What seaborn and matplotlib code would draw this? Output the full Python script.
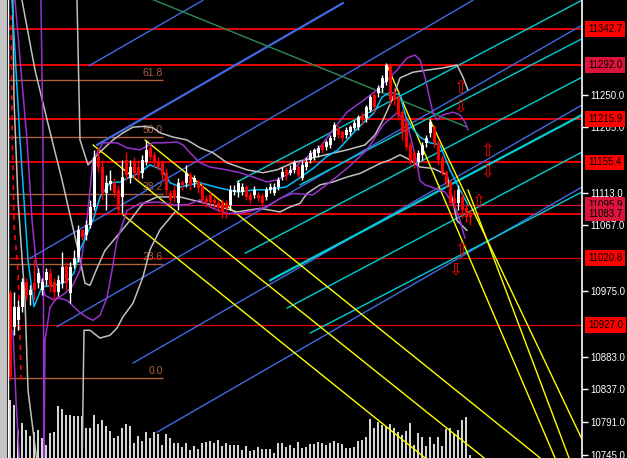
import matplotlib
matplotlib.use("Agg")
import matplotlib.pyplot as plt
import matplotlib.transforms as mtransforms
from matplotlib.patches import Rectangle
import seaborn as sns

# ---- candles (bar index 0..115) ----
opens = [10972, 10925, 10934, 10953, 10988, 10970, 10986, 10986, 10977, 10991,
         11000, 10988, 10974, 10986, 11010, 10972, 11012, 11023, 11061, 11054,
         11068, 11093, 11163, 11149, 11113, 11125, 11127, 11117, 11107, 11159,
         11134, 11155, 11149, 11141, 11156, 11176, 11166, 11156, 11155, 11141,
         11113, 11117, 11099, 11128, 11127, 11138, 11128, 11128, 11121, 11104,
         11110, 11103, 11099, 11100, 11099, 11096, 11114, 11114, 11114, 11121,
         11110, 11110, 11110, 11108, 11107, 11117, 11113, 11121, 11135, 11145,
         11141, 11145, 11149, 11134, 11149, 11159, 11163, 11169, 11180, 11177,
         11180, 11191, 11204, 11198, 11194, 11198, 11204, 11205, 11222, 11218,
         11229, 11250, 11253, 11260, 11268, 11292, 11254, 11246, 11226, 11211,
         11180, 11169, 11156, 11166, 11183, 11197, 11205, 11183, 11162, 11142,
         11128, 11106, 11099, 11107, 11092, 11085]
closes = [10854, 10953, 10953, 10988, 10970, 10977, 10977, 11000, 10988, 11002,
          10981, 10974, 10991, 11009, 10986, 11009, 11021, 11061, 11051, 11068,
          11093, 11163, 11149, 11113, 11127, 11129, 11113, 11089, 11135, 11138,
          11149, 11141, 11138, 11159, 11173, 11163, 11155, 11149, 11138, 11117,
          11103, 11106, 11127, 11124, 11141, 11124, 11134, 11120, 11103, 11100,
          11100, 11099, 11092, 11086, 11092, 11117, 11117, 11127, 11121, 11107,
          11103, 11117, 11106, 11099, 11117, 11121, 11121, 11131, 11142, 11138,
          11145, 11155, 11138, 11152, 11156, 11169, 11173, 11176, 11173, 11184,
          11190, 11208, 11194, 11190, 11201, 11205, 11211, 11219, 11215, 11233,
          11247, 11233, 11260, 11274, 11292, 11243, 11243, 11222, 11198, 11177,
          11159, 11155, 11169, 11180, 11190, 11212, 11183, 11159, 11142, 11127,
          11099, 11099, 11117, 11089, 11079, 11079]
highs = [10976, 10973, 10962, 10994, 10994, 10984, 11018, 11007, 10994, 11007,
         11007, 10994, 10998, 11030, 11016, 11016, 11033, 11068, 11062, 11075,
         11103, 11173, 11176, 11159, 11138, 11145, 11134, 11124, 11159, 11170,
         11159, 11163, 11159, 11166, 11187, 11180, 11170, 11163, 11159, 11148,
         11117, 11124, 11134, 11131, 11152, 11142, 11138, 11131, 11127, 11110,
         11114, 11107, 11103, 11104, 11103, 11124, 11124, 11131, 11127, 11124,
         11114, 11122, 11114, 11113, 11121, 11127, 11127, 11135, 11149, 11149,
         11152, 11159, 11152, 11159, 11163, 11173, 11176, 11180, 11184, 11187,
         11194, 11212, 11208, 11201, 11205, 11208, 11215, 11222, 11226, 11236,
         11250, 11254, 11264, 11278, 11295, 11295, 11260, 11250, 11229, 11215,
         11184, 11173, 11173, 11184, 11194, 11216, 11208, 11187, 11166, 11145,
         11131, 11117, 11124, 11113, 11096, 11089]
lows = [10850, 10913, 10920, 10946, 10962, 10955, 10962, 10979, 10970, 10984,
        10974, 10962, 10968, 10979, 10976, 10958, 11007, 11016, 11047, 11047,
        11063, 11089, 11142, 11103, 11089, 11117, 11107, 11084, 11085, 11131,
        11127, 11134, 11131, 11134, 11152, 11159, 11149, 11145, 11131, 11110,
        11096, 11100, 11089, 11117, 11121, 11117, 11121, 11113, 11099, 11093,
        11093, 11092, 11086, 11078, 11078, 11089, 11110, 11107, 11110, 11103,
        11099, 11106, 11101, 11095, 11103, 11113, 11110, 11117, 11131, 11131,
        11138, 11141, 11134, 11131, 11145, 11155, 11159, 11163, 11169, 11173,
        11176, 11187, 11190, 11184, 11190, 11194, 11201, 11201, 11208, 11212,
        11226, 11226, 11247, 11254, 11264, 11236, 11236, 11215, 11187, 11173,
        11152, 11148, 11152, 11159, 11177, 11191, 11177, 11152, 11138, 11121,
        11096, 11092, 11089, 11078, 11072, 11068]
volumes = [580, 530, 280, 350, 280, 220, 260, 280, 200, 130,
           250, 260, 520, 490, 430, 430, 420, 420, 420, 300,
           300, 430, 340, 380, 320, 270, 200, 220, 300, 340,
           320, 150, 220, 170, 260, 200, 260, 240, 130, 240,
           200, 150, 150, 110, 150, 80, 120, 90, 150, 160,
           170, 150, 180, 120, 150, 130, 130, 130, 80, 120,
           70, 80, 110, 90, 90, 90, 50, 150, 150, 110,
           130, 100, 160, 100, 110, 140, 140, 160, 150, 130,
           150, 170, 150, 140, 100, 100, 110, 170, 180, 210,
           390, 300, 360, 330, 310, 340, 300, 260, 230, 270,
           350, 130, 250, 210, 120, 210, 140, 210, 120, 290,
           300, 240, 280, 380, 410, 30]

# ---- indicator curves (bar index, price) ----
ma_idx = [0, 0.5, 1.5, 2.5, 3.5, 4.5, 6, 8, 11, 14, 16, 17.5, 19, 21, 22.5, 25, 27.5, 30,
          32.5, 35, 38, 40, 42.5, 47.5, 52, 57, 61, 64, 69, 72.5, 76, 79, 82, 87, 91,
          93, 95, 97.5, 99, 100.5, 102.5, 105, 107.5, 110, 112.5, 114.5]
ma_val = [11440, 11383, 11285, 11187, 11103, 11019, 10953, 10981, 10983, 10988, 11000,
          11033, 11051, 11079, 11107, 11127, 11128, 11135, 11141, 11152, 11145, 11127,
          11121, 11127, 11120, 11114, 11117, 11117, 11121, 11134, 11148, 11163, 11173,
          11204, 11225, 11247, 11254, 11250, 11219, 11204, 11191, 11183, 11180, 11145,
          11117, 11096]

gray_up_idx = [16.25, 16.75, 17.5, 19.5, 22.5, 25.75, 28.25, 30.75, 33.25, 35.75, 37.5,
               40.75, 44.25, 47.5, 50.75, 54.25, 59.25, 63.25, 66.75, 70.75, 75.75,
               84.25, 88.75, 91.25, 93.25, 95.5, 97.5, 100.75, 104.25, 108.25, 111.75,
               113.25, 114.5]
gray_up_val = [11523, 11383, 11187, 11152, 11170, 11187, 11197, 11205, 11206, 11204,
               11197, 11191, 11187, 11176, 11169, 11155, 11145, 11141, 11145, 11155,
               11162, 11173, 11180, 11194, 11215, 11243, 11274, 11282, 11285, 11288,
               11292, 11275, 11257]

gray_mid_idx = [2.5, 3, 6.25, 10.5, 13, 15, 16.75, 18.75, 20, 21.75, 23.75, 26.75, 30,
                33.25, 36.75, 42.5, 47.5, 52.5, 56.75, 62.5, 67.5, 70, 72.5, 74.25, 77.5,
                80.75, 84.25, 87.5, 90.75, 92.5, 95, 97.5, 100, 102.5, 105.75, 109.25,
                111.75, 114.25]
gray_mid_val = [11425, 11383, 11285, 11187, 11131, 11082, 11039, 10986, 10983, 11007,
                11032, 11052, 11074, 11098, 11107, 11107, 11100, 11093, 11086, 11091,
                11086, 11093, 11098, 11112, 11124, 11128, 11135, 11140, 11149, 11154,
                11159, 11166, 11159, 11149, 11147, 11138, 11074, 11060]

gray_low_idx = [0.5, 1, 2, 3.75, 4.5, 7, 18, 18.5, 20, 22.5, 25, 26.75, 28.25, 30.75,
                33.25, 35, 37.5, 41.25]
gray_low_val = [11467, 11243, 11103, 10962, 10836, 10724, 10724, 10920, 10920, 10909,
                10913, 10923, 10939, 10958, 10995, 11033, 11061, 11086]

purple_up_idx = [0.75, 1.25, 2.75, 4.25, 5.5, 6.5, 8.75, 11.25, 13.75, 15.5, 17.5, 19.25,
                 20.75, 23.25, 26.75, 29.25, 32.5, 35.75, 38.25, 41.75, 43.25, 45, 47.5,
                 50, 54.25, 57.5, 60.75, 64.25, 66.75, 69.25, 72.5, 77.5, 80.75, 84.25,
                 87.5, 91.75, 94.25, 96.75, 99.25, 101.25, 102.5, 103.75, 105, 105.75,
                 106.75, 108.25, 110.75, 112.5, 113.75, 114.5]
purple_up_val = [11467, 11383, 11285, 11187, 11075, 11016, 10969, 10962, 10972, 10981,
                 11004, 11075, 11159, 11183, 11183, 11176, 11173, 11183, 11183, 11184,
                 11180, 11169, 11155, 11149, 11145, 11141, 11135, 11128, 11131, 11138,
                 11155, 11177, 11201, 11226, 11239, 11257, 11271, 11285, 11302, 11306,
                 11299, 11275, 11243, 11225, 11215, 11222, 11226, 11222, 11212, 11201]

purple_low_idx = [7.5, 8.25, 8.5, 8.75, 9.25, 10, 11.75, 14.25, 17.5, 19.25, 20.75, 22.5,
                  24.25, 25.5, 26.75, 29.25, 32.5, 36.75, 40.75, 44.25, 47.5, 50.75, 54.25,
                  57.5, 60.75, 64.25, 67.5, 70.75, 75.75, 80, 84.25, 89.25, 93.25, 96.75,
                  99.25, 100.75, 101.75, 102.5, 103.75, 108.75, 111.25, 112.5, 113.75]
purple_low_val = [11467, 11187, 10724, 10906, 10924, 10952, 10966, 10962, 10945, 10938,
                  10934, 10941, 10966, 11004, 11046, 11088, 11098, 11100, 11096, 11096,
                  11103, 11091, 11084, 11084, 11088, 11093, 11105, 11112, 11110, 11128,
                  11147, 11173, 11208, 11225, 11211, 11177, 11154, 11130, 11124, 11114,
                  11093, 11074, 11049]

purple_left_idx = [0.75, 1.5, 2.5]
purple_left_val = [10920, 10822, 10724]

dash_idx = [0.25, 0.5, 1, 2, 2.5, 2.75]
dash_val = [11362, 11215, 11068, 11004, 10920, 10850]

# ---- drawn objects ----
levels = [11342.7, 11292.0, 11215.9, 11155.4, 11095.9, 11083.7, 11020.8, 10927.0]
level_colors = ["#ff0000", "#ff0000", "#ff0000", "#ff0000", "#dc143c", "#ff0000", "#e00000", "#e00000"]
label_colors = ["#ff0000", "#dc143c", "#ff0000", "#ff0000", "#dc143c", "#dc143c", "#ff0000", "#ff0000"]
axis_ticks = [11250.0, 11205.0, 11113.0, 11067.0, 10975.0, 10883.0, 10837.0, 10791.0, 10745.0]

fib_names = ["0.0", "23.6", "38.2", "50.0", "61.8"]
fib_prices = [10853.0, 11012.5, 11111.0, 11191.0, 11270.8]

blue_x0 = [19.75, 21.75, 5, 11.75, 30.75, 36.75]
blue_y0 = [11291, 11180, 11021, 10925, 10874, 10777]
blue_x1 = [48.25, 83.25, 115.75, 143, 143, 143]
blue_y1 = [11383, 11379, 11383, 11348, 11236, 11121]

cyan_x0 = [56.75, 72.5, 58.75, 65, 69.25, 75]
cyan_y0 = [11128, 11124, 11028, 10990, 10951, 10916]
cyan_x1 = [143, 143, 143, 143, 143, 143]
cyan_y1 = [11383, 11329, 11275, 11222, 11170, 11114]

yellow_x0 = [33.75, 20.75, 28.25, 94.25, 105, 114.5]
yellow_y0 = [11187, 11180, 11082, 11292, 11215, 11117]
yellow_x1 = [132.5, 118.5, 103.75, 136.25, 143, 139.75]
yellow_y1 = [10741, 10741, 10741, 10741, 10767, 10741]

green_x = [33, 114.25]
green_y = [11390, 11205]

arrow_idx = [112.5, 112.5, 119.25, 119.25, 117, 112.75, 111.25]
arrow_val = [11260, 11234, 11172, 11143, 11100, 11033, 11005]
arrow_sym = ["\u21e7", "\u21e9", "\u21e7", "\u21e9", "\u21e7", "\u21e7", "\u21e9"]

# ---- style ----
sns.set_theme(style="dark", rc={"axes.facecolor": "black", "figure.facecolor": "black",
                                "axes.grid": False})
plt.rcParams["font.family"] = ["Liberation Sans", "DejaVu Sans"]

fig = plt.figure(figsize=(6.27, 4.58), dpi=100)
rect = [0, 0, 582 / 627, 1]
ax_vol = fig.add_axes(rect)
ax = fig.add_axes(rect, sharex=ax_vol)
ax.patch.set_alpha(0)

n = len(closes)
idx = list(range(n))

# volume
ax_vol.vlines(idx, 0, volumes, colors="white", lw=1.2)
ax_vol.set_ylim(0, 4580)
ax_vol.axis("off")

# horizontal levels
ax.hlines(levels, -0.25, 143, colors=level_colors,
          lw=[1.3, 1.3, 1.3, 1.3, 0.9, 1.3, 0.9, 0.9], zorder=1)

# fibonacci
ax.hlines(fib_prices, -0.25, 38.25, colors="#b0603a", lw=1, zorder=1)
for name, p in zip(fib_names, fib_prices):
    ax.text(38.25, p + 3, name, color="#b0603a", fontsize=7.5, ha="right", va="bottom", zorder=1)

# trend lines
for x0, y0, x1, y1, w in zip(blue_x0, blue_y0, blue_x1, blue_y1, [1, 1.6, 1, 1, 1, 1]):
    ax.plot([x0, x1], [y0, y1], color="#4169e1", lw=w, zorder=1.5)
for x0, y0, x1, y1, w in zip(cyan_x0, cyan_y0, cyan_x1, cyan_y1, [1, 1, 1, 1.6, 1, 1]):
    ax.plot([x0, x1], [y0, y1], color="#00ced1", lw=w, zorder=1.5)
for x0, y0, x1, y1 in zip(yellow_x0, yellow_y0, yellow_x1, yellow_y1):
    ax.plot([x0, x1], [y0, y1], color="#ffff00", lw=1, zorder=1.5)
ax.plot(green_x, green_y, color="#2e8b57", lw=1, zorder=1.5)

# bands and average
for xs, ys, c in [(gray_up_idx, gray_up_val, "#c0c0c0"),
                  (gray_mid_idx, gray_mid_val, "#c0c0c0"),
                  (gray_low_idx, gray_low_val, "#c0c0c0"),
                  (purple_up_idx, purple_up_val, "#9932cc"),
                  (purple_low_idx, purple_low_val, "#9932cc"),
                  (purple_left_idx, purple_left_val, "#9932cc"),
                  (ma_idx, ma_val, "#00bfff")]:
    sns.lineplot(x=xs, y=ys, estimator=None, sort=False, color=c, lw=1.1, ax=ax,
                 legend=False, zorder=2)
ax.plot(dash_idx, dash_val, color="red", lw=1.2, ls=(0, (3, 3)), zorder=2)

# candles
up = [c >= o for o, c in zip(opens, closes)]
col = ["white" if u else "red" for u in up]
ax.vlines(idx, lows, highs, colors=col, lw=1, zorder=3)
ax.bar(idx, [c - o for o, c in zip(opens, closes)], bottom=opens, width=0.75,
       color=col, linewidth=0, zorder=3)

# arrows
for xi, yi, s in zip(arrow_idx, arrow_val, arrow_sym):
    ax.text(xi, yi, s, color="red", fontsize=12, ha="center", va="center",
            family="DejaVu Sans", zorder=4)

ax.set_xlim(-2.5, 143)
ax.set_ylim(10740.8, 11383.3)

# price axis
ax.yaxis.tick_right()
ax.set_yticks(axis_ticks)
ax.set_yticklabels([f"{v:.1f}" for v in axis_ticks])
ax.tick_params(axis="y", colors="white", labelcolor="white", labelsize=7, length=4,
               width=1, pad=2, right=True, left=False)
ax.set_xticks([])
for side in ["top", "bottom", "left"]:
    ax.spines[side].set_visible(False)
ax.spines["right"].set_color("white")
ax.spines["right"].set_linewidth(1.2)

trans = mtransforms.blended_transform_factory(ax.transAxes, ax.transData)
for p, c in zip(levels, label_colors):
    ax.text(1.0 + 6 / 582, p, f"{p:.1f}", transform=trans, color="black", fontsize=7,
            ha="left", va="center", clip_on=False, zorder=5,
            bbox=dict(boxstyle="square,pad=0.3", fc=c, ec="none"))

# window border on the left
ax.add_patch(Rectangle((0, 0), 7 / 582, 1, transform=ax.transAxes, fc="#c4c4c4",
                       ec="none", zorder=6, clip_on=False))
ax.axvline(-0.6, color="white", lw=1, zorder=6)

fig.savefig("out.png", dpi=100, facecolor="black")
